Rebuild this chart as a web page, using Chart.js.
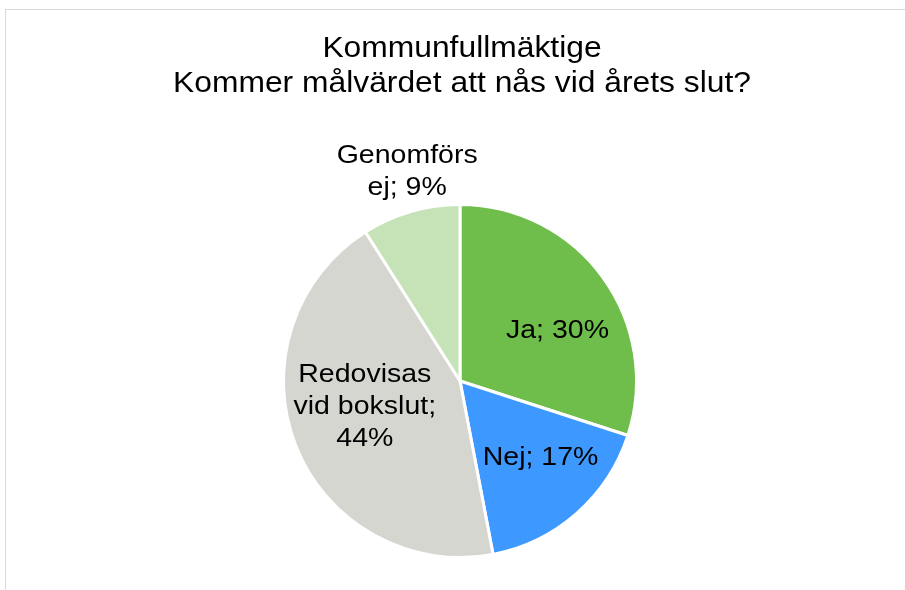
<!DOCTYPE html>
<html>
<head>
<meta charset="utf-8">
<script src="https://cdn.jsdelivr.net/npm/chart.js@4"></script>
<style>
  html, body { margin: 0; padding: 0; background: #fff; }
  #wrap { position: relative; width: 905px; height: 590px; }
</style>
</head>
<body>
<div id="wrap"><canvas id="pieChart" width="905" height="590"></canvas></div>
<script>
const titleLines = ['Kommunfullmäktige', 'Kommer målvärdet att nås vid årets slut?'];
const categories = ['Ja', 'Nej', 'Redovisas vid bokslut', 'Genomförs ej'];
const values = [30, 17, 44, 9];
// how each data label is broken into lines, as Excel wraps them
const labelLines = [
    ['Ja; 30%'],
    ['Nej; 17%'],
    ['Redovisas', 'vid bokslut;', '44%'],
    ['Genomförs', 'ej; 9%']
];
const sliceColors = ['#6FBE4B', '#3D99FF', '#D6D6D1', '#C5E3B6'];
// label placement: share of the radius, and a small turn (degrees) off the slice middle
const labelRadius = [0.62, 0.63, 0.56, 1.22];
const labelTurn = [9, -5, 6, 2];

const FONT = '"Liberation Sans", Arial, sans-serif';

document.addEventListener("DOMContentLoaded", function () {
    const drawText = (c, text, x, y, size, stretch) => {
        c.save();
        c.translate(x, y);
        c.scale(stretch, 1);
        c.font = size + 'px ' + FONT;
        c.fillStyle = '#000';
        c.textAlign = 'center';
        c.textBaseline = 'middle';
        c.fillText(text, 0, 0);
        c.restore();
    };

    const frameAndText = {
        id: 'frameAndText',
        beforeDraw(chart) {
            const c = chart.ctx;
            c.save();
            c.strokeStyle = '#D9D9D9';
            c.lineWidth = 1;
            c.strokeRect(5.5, 9.5, 1000, 1000);
            c.restore();
        },
        afterDatasetsDraw(chart) {
            const c = chart.ctx;
            titleLines.forEach((t, i) => drawText(c, t, 462, 49 + i * 35, 30, 1.06));
            const meta = chart.getDatasetMeta(0);
            meta.data.forEach((arc, i) => {
                const p = arc.getProps(['x', 'y', 'startAngle', 'endAngle', 'outerRadius']);
                const mid = (p.startAngle + p.endAngle) / 2 + labelTurn[i] * Math.PI / 180;
                const r = p.outerRadius * labelRadius[i];
                const cx = p.x + Math.cos(mid) * r;
                const cy = p.y + Math.sin(mid) * r;
                const lines = labelLines[i];
                const lh = 32;
                lines.forEach((l, j) => {
                    drawText(c, l, cx, cy + (j - (lines.length - 1) / 2) * lh, 25, 1.14);
                });
            });
        }
    };

    const ctx = document.getElementById('pieChart');
    new Chart(ctx, {
        type: 'pie',
        data: {
            labels: categories,
            datasets: [{
                data: values,
                backgroundColor: sliceColors,
                borderColor: '#FFFFFF',
                borderWidth: 3
            }]
        },
        options: {
            responsive: false,
            animation: false,
            layout: { padding: { top: 203, bottom: 31, left: 282, right: 267 } },
            plugins: {
                legend: { display: false },
                tooltip: { enabled: false },
                title: { display: false }
            }
        },
        plugins: [frameAndText]
    });
});
</script>
</body>
</html>
